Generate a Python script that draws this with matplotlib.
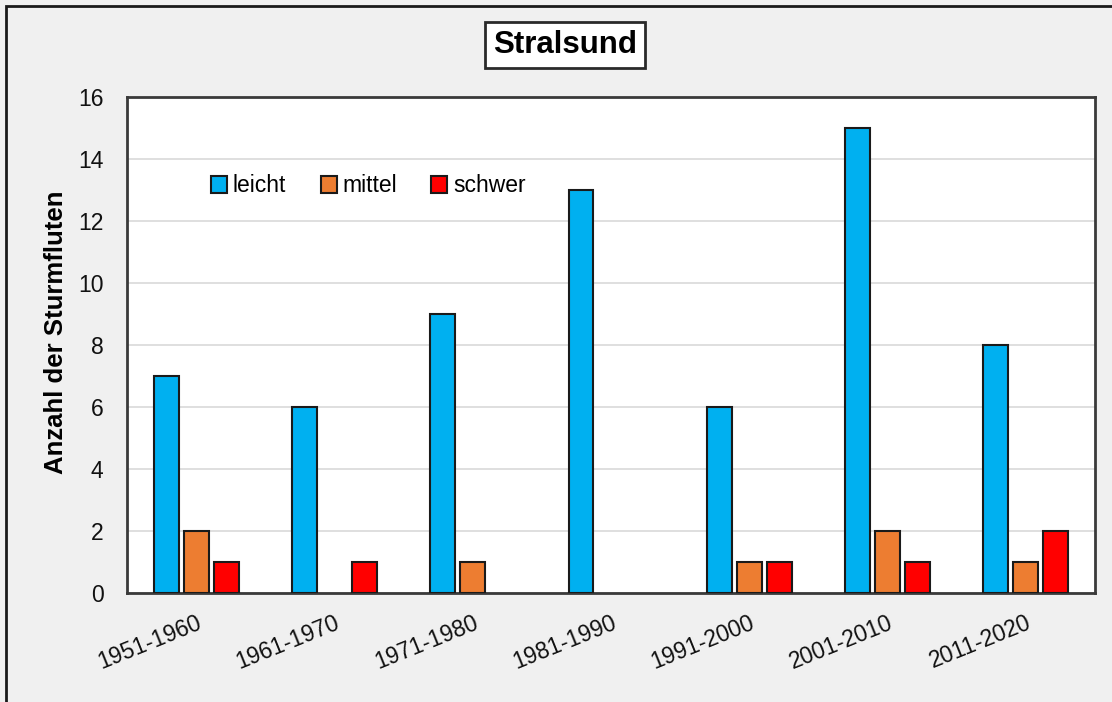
import matplotlib
matplotlib.use('Agg')
import matplotlib.pyplot as plt
import numpy as np
from matplotlib.patches import Rectangle

plt.rcParams['font.family'] = ['Liberation Sans', 'DejaVu Sans']

decades = ['1951-1960', '1961-1970', '1971-1980', '1981-1990',
           '1991-2000', '2001-2010', '2011-2020']
leicht = [7, 6, 9, 13, 6, 15, 8]
mittel = [2, 0, 1, 0, 1, 2, 1]
schwer = [1, 1, 0, 0, 1, 1, 2]

series = [('leicht', leicht, '#00B0F0'),
          ('mittel', mittel, '#ED7D31'),
          ('schwer', schwer, '#FF0000')]

fig = plt.figure(figsize=(11.12, 7.02), dpi=100)
fig.patch.set_facecolor('#F0F0F0')
ax = fig.add_axes([127/1112, 1-593/702, (1095-127)/1112, (593-97)/702])

x = np.arange(len(decades))
pitch = 0.217
width = 0.18
for i, (name, vals, col) in enumerate(series):
    # zero bars get no outline so no stray line sits on the axis
    lws = [1.5 if v > 0 else 0 for v in vals]
    ax.bar(x + (i-1)*pitch, vals, width, color=col, edgecolor='#1a1a1a',
           linewidth=lws, label=name, zorder=3)

ax.set_xlim(-0.5, len(decades)-0.5)
ax.set_ylim(0, 16)
ax.set_yticks(range(0, 17, 2))
ax.yaxis.grid(True, color='#D9D9D9', linewidth=1.2, zorder=0)
ax.set_axisbelow(True)
ax.tick_params(axis='y', length=0, pad=17, labelsize=16.5)
ax.tick_params(axis='x', length=0, pad=13, labelsize=16.5)
ax.set_xticks(x)
ax.set_xticklabels(decades, rotation=22, ha='right', va='top',
                   rotation_mode='anchor')
for lab in ax.get_xticklabels() + ax.get_yticklabels():
    lab.set_color('#111111')
for s in ax.spines.values():
    s.set_color('#3a3a3a')
    s.set_linewidth(2)

ax.set_ylabel('Anzahl der Sturmfluten', fontsize=18.5, fontweight='bold')
ax.yaxis.set_label_coords(-(127-68)/968, (593-332)/496)

leg = ax.legend(loc='center left', bbox_to_anchor=((211-127)/968, (593-186)/496),
                ncol=3, frameon=False, fontsize=16.5, handlelength=0.7,
                handleheight=0.7, handletextpad=0.25, columnspacing=1.5,
                borderpad=0, borderaxespad=0)
for h in leg.legend_handles:
    h.set_linewidth(1.5)

fig.text(565/1112, 1-45/702, 'Stralsund', fontsize=22.5, fontweight='bold',
         ha='center', va='center',
         bbox=dict(boxstyle='square,pad=0.25', facecolor='white',
                   edgecolor='#2a2a2a', linewidth=2))

fig.patches.append(Rectangle((6/1112, -0.1), 1.2, 1.1 - 6/702,
                             transform=fig.transFigure, fill=False,
                             edgecolor='#1a1a1a', linewidth=2))

fig.savefig('out.png', dpi=100, facecolor=fig.get_facecolor())
